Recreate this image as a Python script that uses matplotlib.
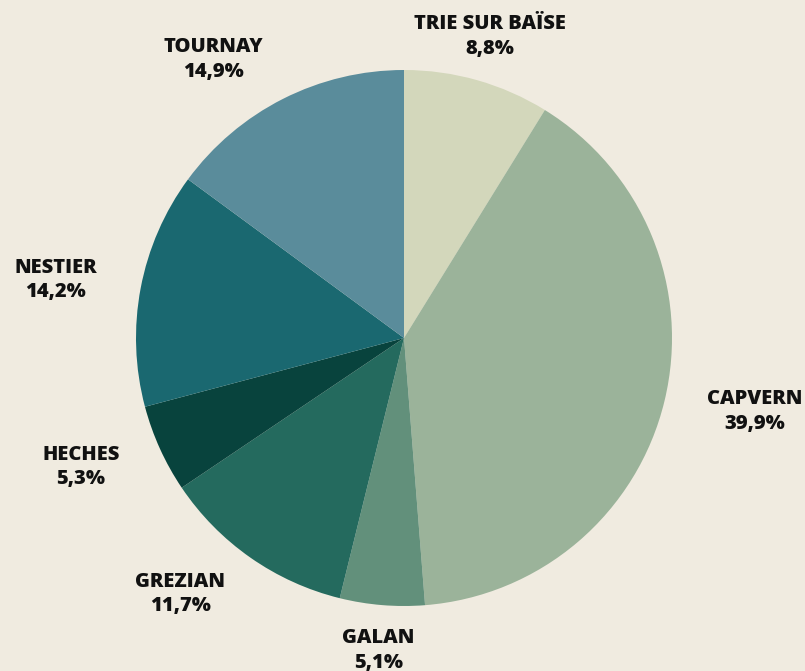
import numpy as np
import matplotlib.pyplot as plt

communes = ["TRIE SUR BAÏSE", "CAPVERN", "GALAN", "GREZIAN", "HECHES", "NESTIER", "TOURNAY"]
parts = [8.8, 39.9, 5.1, 11.7, 5.3, 14.2, 14.9]
labels_pct = ["8,8%", "39,9%", "5,1%", "11,7%", "5,3%", "14,2%", "14,9%"]
colors = ["#d3d7bb", "#9bb39a", "#62907b", "#246a5e", "#08433d", "#1a6870", "#5a8c9b"]

bg = "#f0ebe0"
fig = plt.figure(figsize=(8.05, 6.71), dpi=100, facecolor=bg)
W, H = 805, 671
cx, cy, R = 404, 338, 268
ax = fig.add_axes([(cx - R) / W, (H - cy - R) / H, 2 * R / W, 2 * R / H])
ax.set_facecolor(bg)

wedges, _ = ax.pie(parts, colors=colors, startangle=90, counterclock=False,
                   radius=1, wedgeprops=dict(linewidth=0))
ax.set_xlim(-1, 1)
ax.set_ylim(-1, 1)
ax.axis("off")

total = sum(parts)
cum = 0
for name, p, pct in zip(communes, parts, labels_pct):
    mid = (cum + p / 2) / total * 2 * np.pi
    cum += p
    x, y = np.sin(mid), np.cos(mid)
    if abs(x) < 0.3:
        ha = "center"
        r = 1.17
    else:
        ha = "left" if x > 0 else "right"
        r = 1.165
    ax.text(r * x, r * y, name + "\n" + pct, ha=ha, va="center",
            multialignment="center", fontsize=14.5, fontweight="heavy",
            family="Open Sans", color="#111111", linespacing=1.3)

fig.savefig("out.png", dpi=100, facecolor=bg)
